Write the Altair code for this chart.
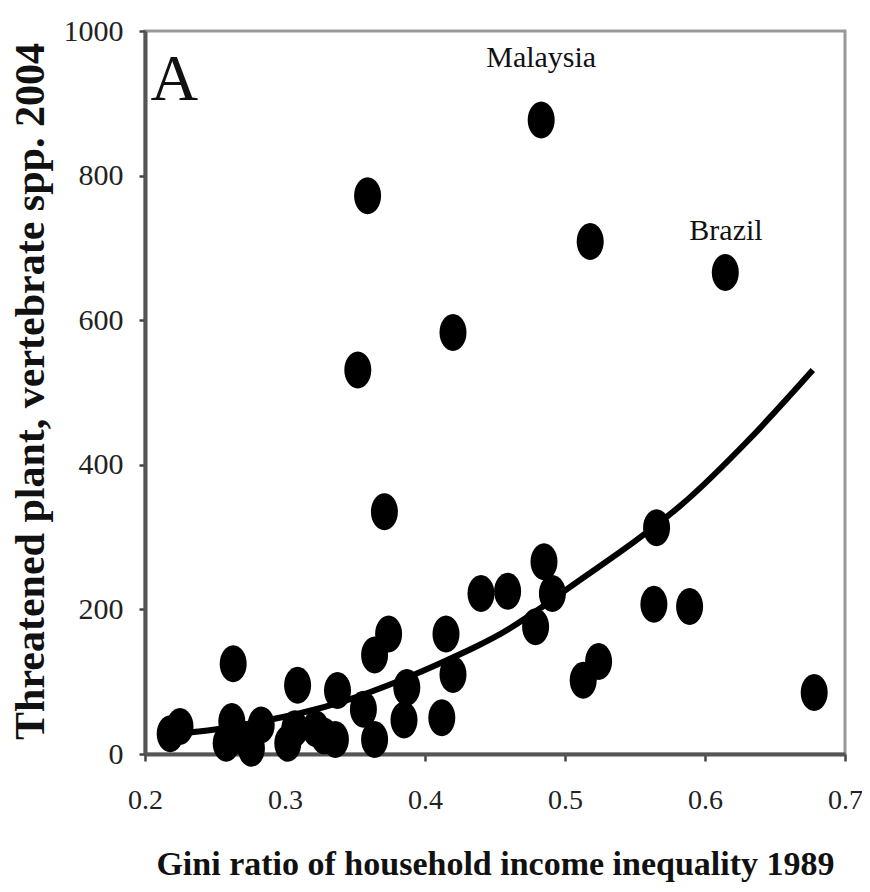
import altair as alt
import pandas as pd

# Data points
gini = [0.218, 0.225, 0.263, 0.262, 0.258, 0.266, 0.276, 0.283, 0.302, 0.307,
        0.309, 0.322, 0.328, 0.336, 0.3375, 0.356, 0.364, 0.364, 0.374, 0.371,
        0.352, 0.359, 0.385, 0.387, 0.412, 0.415, 0.420, 0.420, 0.440, 0.459,
        0.479, 0.485, 0.491, 0.483, 0.513, 0.524, 0.518, 0.5635, 0.5654, 0.589,
        0.6145, 0.678]
threat = [28, 38, 125, 45, 15, 25, 8, 40, 15, 35,
          95, 35, 25, 20, 88, 62, 20, 137, 166, 335,
          531, 772, 47, 92, 50, 166, 110, 583, 222, 225,
          176, 266, 222, 877, 102, 128, 709, 207, 313, 204,
          666, 85]

# Fitted trend curve
fit_x = [0.222, 0.25, 0.28, 0.31, 0.345, 0.38, 0.416, 0.437, 0.451, 0.49,
         0.50, 0.556, 0.584, 0.632, 0.677]
fit_y = [28, 34, 44, 56, 75, 100, 130, 149, 163, 212,
         226, 303, 346, 436, 531]

# Annotations
country_text = ["Malaysia", "Brazil"]
country_x = [0.483, 0.615]
country_y = [950, 711]
panel_text = ["A"]
panel_x = [0.204]
panel_y = [904]

pts = pd.DataFrame({"gini": gini, "threat": threat})
fit = pd.DataFrame({"gini": fit_x, "threat": fit_y})
countries = pd.DataFrame({"t": country_text, "gini": country_x, "threat": country_y})
panel = pd.DataFrame({"t": panel_text, "gini": panel_x, "threat": panel_y})

SERIF = "Liberation Serif"

xscale = alt.Scale(domain=[0.2, 0.7], nice=False, zero=False)
yscale = alt.Scale(domain=[0, 1000], nice=False)

xaxis = alt.Axis(
    values=[0.2, 0.3, 0.4, 0.5, 0.6, 0.7], format=".1f", grid=False,
    labelPadding=25, labelFlush=False, tickSize=7, labelFontSize=28,
    title="Gini ratio of household income inequality 1989",
    titleFontSize=34, titleY=120, titleBaseline="alphabetic",
)
yaxis = alt.Axis(
    values=[0, 200, 400, 600, 800, 1000], format="d", grid=False,
    labelPadding=16, tickSize=6, labelFontSize=30,
    title="Threatened plant, vertebrate spp. 2004",
    titleFontSize=42, titleAngle=270, titleX=-115, titleY=360,
    titleAlign="center", titleBaseline="middle",
)

X = alt.X("gini:Q", scale=xscale, axis=xaxis)
Y = alt.Y("threat:Q", scale=yscale, axis=yaxis)

ellipse = "M -0.73 0 A 0.73 1 0 1 1 0.73 0 A 0.73 1 0 1 1 -0.73 0 Z"

dots = alt.Chart(pts).mark_point(
    shape=ellipse, filled=True, fill="black", opacity=1, size=1369, strokeWidth=0
).encode(x=X, y=Y)

curve = alt.Chart(fit).mark_line(
    color="black", strokeWidth=6, interpolate="monotone"
).encode(x=X, y=Y)

country_labels = alt.Chart(countries).mark_text(
    font=SERIF, fontSize=30, align="center", baseline="alphabetic", color="#111"
).encode(x=X, y=Y, text="t:N")

panel_label = alt.Chart(panel).mark_text(
    font=SERIF, fontSize=66, align="left", baseline="alphabetic", color="#111"
).encode(x=X, y=Y, text="t:N")

chart = alt.layer(dots, curve, country_labels, panel_label).properties(
    width=700, height=723,
    autosize=alt.AutoSizeParams(type="none"),
    padding={"left": 137, "top": 23, "right": 17, "bottom": 130},
).configure_view(
    stroke="#999", strokeWidth=3
).configure_axis(
    labelFont=SERIF, labelColor="#222",
    tickWidth=2.5, tickColor="#444",
    domainColor="#555", domainWidth=4,
    titleFont=SERIF, titleFontWeight="bold", titleColor="#111",
)

chart.save("out.html", embed_options={"renderer": "svg", "actions": False})
